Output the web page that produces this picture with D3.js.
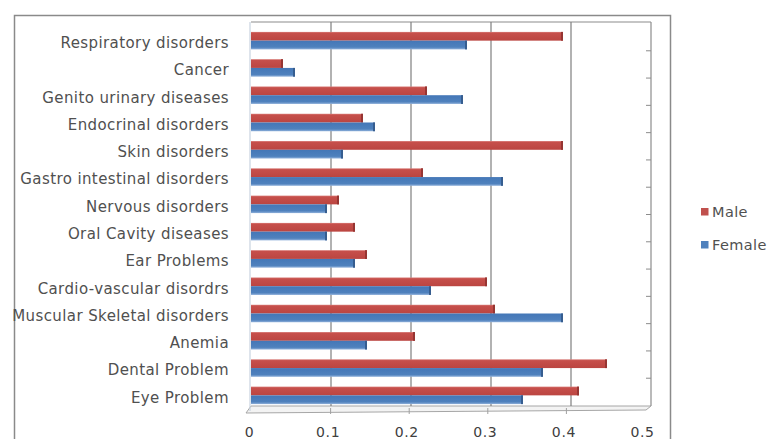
<!DOCTYPE html>
<html>
<head>
<meta charset="utf-8">
<script src="https://cdn.jsdelivr.net/npm/d3@7"></script>
<style>
  html, body { margin: 0; padding: 0; background: #fff; }
  svg { display: block; }
  text { font-family: "DejaVu Sans", sans-serif; }
</style>
</head>
<body>
<svg id="chart" width="773" height="439"></svg>
<script>
// Disease categories, top to bottom
const categories = [
  "Respiratory disorders",
  "Cancer",
  "Genito urinary diseases",
  "Endocrinal disorders",
  "Skin disorders",
  "Gastro intestinal disorders",
  "Nervous disorders",
  "Oral Cavity diseases",
  "Ear Problems",
  "Cardio-vascular disordrs",
  "Muscular Skeletal disorders",
  "Anemia",
  "Dental Problem",
  "Eye Problem"
];

const seriesNames = ["Male", "Female"];

const maleValues = [0.39, 0.04, 0.22, 0.14, 0.39, 0.215, 0.11, 0.13, 0.145, 0.295, 0.305, 0.205, 0.445, 0.41];
const femaleValues = [0.27, 0.055, 0.265, 0.155, 0.115, 0.315, 0.095, 0.095, 0.13, 0.225, 0.39, 0.145, 0.365, 0.34];

const xTicks = [0, 0.1, 0.2, 0.3, 0.4, 0.5];

const colors = { Male: "#c0504d", Female: "#4f81bd" };

const svg = d3.select("#chart");

// Chart frame
svg.append("rect")
  .attr("x", 14.5).attr("y", 15.5)
  .attr("width", 656).attr("height", 460)
  .attr("fill", "#fff")
  .attr("stroke", "#8a8a8a")
  .attr("stroke-width", 1.5);

// Scales: bars / back wall, and the front floor edge that carries the labels
const x = d3.scaleLinear().domain([0, 0.5]).range([251, 651]);
const xFront = d3.scaleLinear().domain([0, 0.5]).range([249, 642]);
const y = d3.scaleBand().domain(categories).range([27, 409])
  .paddingInner(0.36).paddingOuter(0.18);
const ySub = d3.scaleBand().domain(seriesNames).range([0, y.bandwidth()]);

const plotTop = 22, wallBottom = 406;

// Floor
svg.append("polygon")
  .attr("points", [[x(0), wallBottom], [x(0.5), wallBottom], [xFront(0.5) + 4, 410], [xFront(0) - 3, 413]].join(" "))
  .attr("fill", "#f3f3f3")
  .attr("stroke", "#a6a6a6")
  .attr("stroke-width", 1);

// Back wall top edge and side walls
svg.append("line")
  .attr("x1", x(0)).attr("x2", x(0.5))
  .attr("y1", plotTop).attr("y2", plotTop)
  .attr("stroke", "#8c8c8c").attr("stroke-width", 1.2);
svg.append("line")
  .attr("x1", x(0) - 1).attr("x2", x(0) - 1)
  .attr("y1", plotTop).attr("y2", wallBottom + 5)
  .attr("stroke", "#c8d3e0").attr("stroke-width", 1.2);
svg.append("line")
  .attr("x1", x(0.5)).attr("x2", x(0.5))
  .attr("y1", plotTop).attr("y2", wallBottom)
  .attr("stroke", "#8c8c8c").attr("stroke-width", 1.2);

// Vertical gridlines on the back wall
svg.append("g").selectAll("line")
  .data(xTicks.filter(t => t > 0 && t < 0.5))
  .join("line")
  .attr("x1", d => x(d)).attr("x2", d => x(d))
  .attr("y1", plotTop).attr("y2", wallBottom)
  .attr("stroke", "#7f7f7f").attr("stroke-width", 1.2);

// Small ticks on the floor edge
svg.append("g").selectAll("line")
  .data(xTicks.filter(t => t > 0 && t < 0.5))
  .join("line")
  .attr("x1", d => xFront(d) + 3).attr("x2", d => xFront(d) + 3)
  .attr("y1", 408).attr("y2", 414)
  .attr("stroke", "#a0a0a0").attr("stroke-width", 1);

// Depth-axis ticks on the right wall
svg.append("g").selectAll("line")
  .data(d3.range(1, categories.length))
  .join("line")
  .attr("x1", x(0.5) - 5).attr("x2", x(0.5))
  .attr("y1", k => y.range()[0] + k * y.step() - 3.5)
  .attr("y2", k => y.range()[0] + k * y.step() - 3.5)
  .attr("stroke", "#8c8c8c").attr("stroke-width", 1);

// Shading for the bar faces
const defs = svg.append("defs");
const gRed = defs.append("linearGradient").attr("id", "gMale")
  .attr("x1", 0).attr("y1", 0).attr("x2", 0).attr("y2", 1);
gRed.append("stop").attr("offset", "0%").attr("stop-color", "#d97c78");
gRed.append("stop").attr("offset", "15%").attr("stop-color", "#c64f4b");
gRed.append("stop").attr("offset", "100%").attr("stop-color", "#bb4541");
const gBlue = defs.append("linearGradient").attr("id", "gFemale")
  .attr("x1", 0).attr("y1", 0).attr("x2", 0).attr("y2", 1);
gBlue.append("stop").attr("offset", "0%").attr("stop-color", "#4477b7");
gBlue.append("stop").attr("offset", "75%").attr("stop-color", "#4f81bd");
gBlue.append("stop").attr("offset", "100%").attr("stop-color", "#8fb0da");

const rows = categories.map((c, i) => ({ cat: c, Male: maleValues[i], Female: femaleValues[i] }));

const barG = svg.append("g");
rows.forEach(r => {
  seriesNames.forEach(s => {
    const y0 = y(r.cat) + ySub(s);
    const h = ySub.bandwidth();
    barG.append("rect")
      .attr("x", x(0)).attr("y", y0)
      .attr("width", x(r[s]) - x(0)).attr("height", h)
      .attr("fill", `url(#g${s})`);
    // right end face
    barG.append("rect")
      .attr("x", x(r[s]) - 2).attr("y", y0)
      .attr("width", 2).attr("height", h)
      .attr("fill", s === "Male" ? "#963532" : "#365d8f");
  });
});

// Category labels
const yAxis = d3.axisLeft(y).tickSize(0).tickPadding(22);
svg.append("g")
  .attr("transform", `translate(${x(0)},2.5)`)
  .call(yAxis)
  .call(g => g.select(".domain").remove())
  .selectAll("text")
  .attr("font-family", "DejaVu Sans, sans-serif")
  .attr("font-size", 15)
  .attr("letter-spacing", 0.4)
  .attr("fill", "#505050");

// Value axis labels along the front edge
const xAxis = d3.axisBottom(xFront).tickValues(xTicks).tickSize(0).tickPadding(3)
  .tickFormat(d => d === 0 ? "0" : d3.format(".1f")(d));
svg.append("g")
  .attr("transform", "translate(0,424.5)")
  .call(xAxis)
  .call(g => g.select(".domain").remove())
  .selectAll("text")
  .attr("font-family", "DejaVu Sans, sans-serif")
  .attr("font-size", 14)
  .attr("letter-spacing", 0.6)
  .attr("fill", "#404040");

// Legend
const legend = svg.append("g").attr("transform", "translate(701,208)");
seriesNames.forEach((s, i) => {
  const g = legend.append("g").attr("transform", `translate(0,${i * 33})`);
  g.append("rect").attr("width", 7.5).attr("height", 7.5).attr("fill", colors[s]);
  g.append("text")
    .attr("x", 11).attr("y", 4)
    .attr("dominant-baseline", "central")
    .attr("font-size", 14.5)
    .attr("letter-spacing", 0.4)
    .attr("fill", "#505050")
    .text(s);
});
</script>
</body>
</html>
